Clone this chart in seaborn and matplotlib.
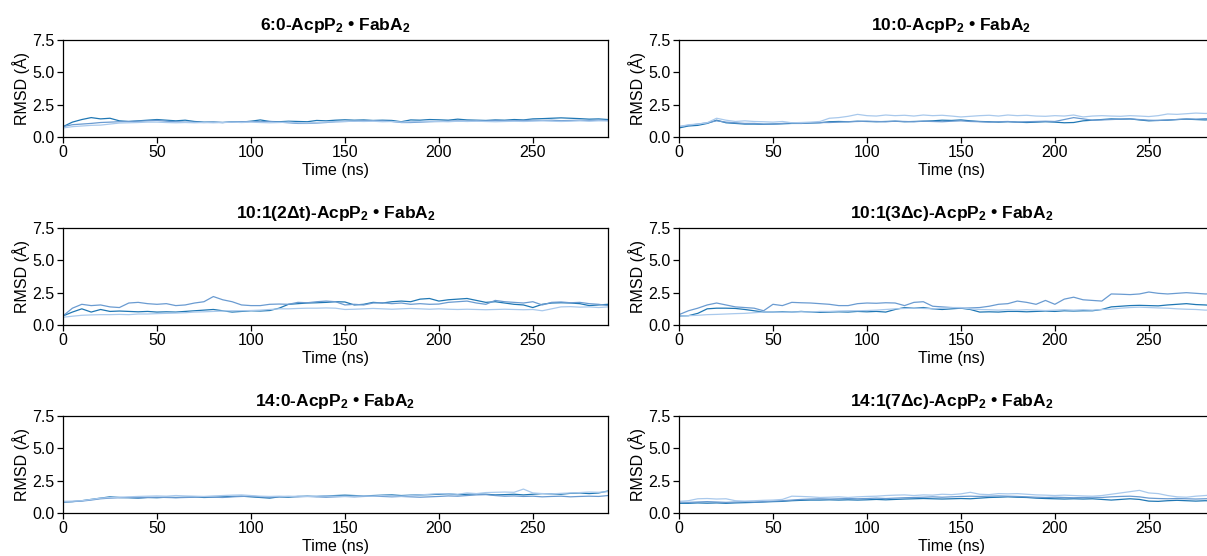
import numpy as np
import pandas as pd
import matplotlib
matplotlib.use("Agg")
import matplotlib.pyplot as plt
import seaborn as sns

# ---------------- data (RMSD in Å, sampled every 5 ns) ----------------
step_ns = 5
titles = [
    r"6:0-AcpP$_2\,$•$\,$FabA$_2$",
    r"10:0-AcpP$_2\,$•$\,$FabA$_2$",
    r"10:1(2Δt)-AcpP$_2\,$•$\,$FabA$_2$",
    r"10:1(3Δc)-AcpP$_2\,$•$\,$FabA$_2$",
    r"14:0-AcpP$_2\,$•$\,$FabA$_2$",
    r"14:1(7Δc)-AcpP$_2\,$•$\,$FabA$_2$",
]
replicates = ["rep1", "rep2", "rep3"]
colors = ["#1f77b4", "#6a9bd1", "#a9c9ec"]

p1_dark = [0.80, 1.15, 1.35, 1.50, 1.40, 1.45, 1.25, 1.20, 1.25, 1.30, 1.35, 1.30, 1.25, 1.30, 1.20, 1.15, 1.15, 1.12, 1.18, 1.15,
           1.22, 1.32, 1.20, 1.18, 1.22, 1.20, 1.18, 1.28, 1.25, 1.30, 1.33, 1.30, 1.32, 1.28, 1.30, 1.28, 1.18, 1.32, 1.30, 1.35,
           1.33, 1.30, 1.38, 1.32, 1.30, 1.28, 1.32, 1.30, 1.35, 1.32, 1.40, 1.42, 1.45, 1.48, 1.45, 1.42, 1.38, 1.40, 1.35]
p1_mid = [0.80, 0.95, 1.00, 1.05, 1.12, 1.15, 1.18, 1.20, 1.22, 1.25, 1.28, 1.22, 1.18, 1.15, 1.15, 1.12, 1.15, 1.12, 1.15, 1.18,
          1.20, 1.18, 1.20, 1.15, 1.10, 1.05, 1.05, 1.08, 1.12, 1.18, 1.20, 1.22, 1.25, 1.26, 1.25, 1.20, 1.12, 1.12, 1.15, 1.18,
          1.20, 1.22, 1.25, 1.22, 1.25, 1.24, 1.28, 1.25, 1.26, 1.28, 1.30, 1.28, 1.30, 1.26, 1.28, 1.30, 1.27, 1.30, 1.28]
p1_light = [0.70, 0.80, 0.85, 0.90, 0.92, 1.00, 1.08, 1.10, 1.12, 1.15, 1.15, 1.12, 1.10, 1.12, 1.10, 1.12, 1.10, 1.12, 1.15, 1.12,
            1.15, 1.12, 1.10, 1.12, 1.15, 1.10, 1.08, 1.12, 1.15, 1.18, 1.20, 1.22, 1.20, 1.22, 1.18, 1.20, 1.15, 1.18, 1.20, 1.22,
            1.20, 1.18, 1.22, 1.20, 1.22, 1.20, 1.18, 1.20, 1.22, 1.20, 1.22, 1.25, 1.22, 1.20, 1.22, 1.25, 1.22, 1.25, 1.24]

p2_dark = [0.70, 0.85, 0.90, 1.05, 1.30, 1.10, 1.05, 1.00, 1.00, 0.98, 1.00, 1.02, 1.05, 1.05, 1.08, 1.10, 1.18, 1.20, 1.18, 1.22,
           1.20, 1.18, 1.20, 1.22, 1.18, 1.20, 1.22, 1.25, 1.30, 1.28, 1.32, 1.25, 1.20, 1.18, 1.15, 1.18, 1.15, 1.12, 1.15, 1.18,
           1.15, 1.10, 1.12, 1.25, 1.30, 1.35, 1.40, 1.38, 1.40, 1.32, 1.25, 1.28, 1.30, 1.35, 1.38, 1.35, 1.32, 1.36, 1.34]
p2_mid = [0.80, 0.90, 1.00, 1.10, 1.25, 1.15, 1.10, 1.05, 1.05, 1.00, 1.00, 1.05, 1.10, 1.05, 1.10, 1.12, 1.12, 1.15, 1.18, 1.20,
          1.22, 1.20, 1.18, 1.22, 1.20, 1.18, 1.22, 1.20, 1.18, 1.22, 1.25, 1.20, 1.18, 1.15, 1.18, 1.20, 1.15, 1.18, 1.20, 1.22,
          1.20, 1.35, 1.50, 1.40, 1.30, 1.32, 1.35, 1.38, 1.40, 1.35, 1.30, 1.28, 1.32, 1.35, 1.40, 1.38, 1.42, 1.40, 1.38]
p2_light = [0.80, 0.95, 1.00, 1.10, 1.45, 1.30, 1.20, 1.25, 1.20, 1.18, 1.15, 1.20, 1.10, 1.12, 1.15, 1.20, 1.45, 1.50, 1.60, 1.75,
            1.65, 1.62, 1.70, 1.65, 1.68, 1.62, 1.70, 1.65, 1.68, 1.62, 1.55, 1.60, 1.65, 1.68, 1.62, 1.70, 1.65, 1.68, 1.62, 1.60,
            1.65, 1.62, 1.70, 1.55, 1.62, 1.65, 1.62, 1.60, 1.65, 1.62, 1.58, 1.65, 1.78, 1.75, 1.80, 1.85, 1.82, 1.85, 1.80]

p3_dark = [0.70, 1.00, 1.25, 1.00, 1.20, 1.05, 1.08, 1.05, 1.02, 1.05, 1.00, 1.02, 1.00, 1.05, 1.10, 1.15, 1.20, 1.10, 1.00, 1.05,
           1.10, 1.08, 1.12, 1.30, 1.60, 1.65, 1.70, 1.72, 1.75, 1.80, 1.78, 1.55, 1.60, 1.75, 1.70, 1.80, 1.85, 1.80, 2.00, 2.05,
           1.85, 1.95, 2.00, 2.05, 1.90, 1.75, 1.80, 1.70, 1.60, 1.55, 1.35, 1.60, 1.70, 1.72, 1.70, 1.65, 1.50, 1.55, 1.60]
p3_mid = [0.70, 1.30, 1.60, 1.50, 1.55, 1.40, 1.35, 1.70, 1.75, 1.65, 1.60, 1.65, 1.50, 1.55, 1.70, 1.80, 2.20, 1.95, 1.80, 1.55,
          1.50, 1.50, 1.60, 1.62, 1.60, 1.75, 1.72, 1.80, 1.85, 1.80, 1.55, 1.60, 1.55, 1.70, 1.72, 1.65, 1.70, 1.60, 1.65, 1.60,
          1.62, 1.75, 1.80, 1.85, 1.70, 1.60, 1.90, 1.80, 1.75, 1.70, 1.80, 1.55, 1.75, 1.78, 1.72, 1.75, 1.65, 1.60, 1.50]
p3_light = [0.60, 0.68, 0.75, 0.78, 0.80, 0.80, 0.82, 0.80, 0.85, 0.85, 0.88, 0.90, 0.92, 0.95, 1.00, 1.02, 1.05, 1.08, 1.10, 1.10,
            1.12, 1.15, 1.20, 1.25, 1.25, 1.28, 1.30, 1.30, 1.32, 1.30, 1.20, 1.22, 1.25, 1.28, 1.25, 1.22, 1.25, 1.28, 1.25, 1.22,
            1.25, 1.22, 1.20, 1.22, 1.20, 1.18, 1.20, 1.22, 1.20, 1.18, 1.20, 1.10, 1.25, 1.40, 1.42, 1.38, 1.40, 1.35, 1.40]

p4_dark = [0.70, 0.72, 0.90, 1.25, 1.30, 1.30, 1.28, 1.20, 1.10, 1.00, 1.00, 1.02, 1.00, 1.05, 1.00, 0.98, 1.00, 1.02, 1.00, 1.05,
           1.02, 1.05, 1.00, 1.20, 1.35, 1.30, 1.35, 1.25, 1.20, 1.25, 1.30, 1.20, 1.00, 1.02, 1.00, 1.05, 1.05, 1.02, 1.05, 1.08,
           1.05, 1.10, 1.08, 1.10, 1.10, 1.20, 1.40, 1.45, 1.50, 1.52, 1.50, 1.48, 1.55, 1.60, 1.65, 1.58, 1.55, 1.50, 1.48]
p4_mid = [0.80, 1.10, 1.30, 1.55, 1.70, 1.55, 1.40, 1.35, 1.30, 1.10, 1.60, 1.50, 1.75, 1.72, 1.70, 1.65, 1.60, 1.50, 1.50, 1.65,
          1.70, 1.68, 1.72, 1.70, 1.50, 1.75, 1.80, 1.45, 1.40, 1.35, 1.30, 1.32, 1.35, 1.45, 1.60, 1.65, 1.85, 1.75, 1.60, 1.90,
          1.60, 2.00, 2.15, 1.95, 1.90, 1.85, 2.40, 2.38, 2.35, 2.40, 2.55, 2.45, 2.40, 2.45, 2.50, 2.45, 2.40, 2.42, 2.45]
p4_light = [0.70, 0.72, 0.75, 0.80, 0.82, 0.85, 0.88, 0.90, 0.95, 1.00, 1.00, 0.98, 1.00, 1.02, 1.00, 1.05, 1.05, 1.08, 1.10, 1.10,
            1.12, 1.15, 1.20, 1.25, 1.28, 1.30, 1.28, 1.25, 1.30, 1.35, 1.35, 1.25, 1.20, 1.18, 1.15, 1.18, 1.15, 1.18, 1.15, 1.12,
            1.15, 1.18, 1.15, 1.18, 1.15, 1.20, 1.22, 1.30, 1.35, 1.38, 1.35, 1.32, 1.30, 1.25, 1.22, 1.20, 1.15, 1.15, 1.12]

p5_dark = [0.85, 0.88, 0.95, 1.05, 1.15, 1.25, 1.20, 1.18, 1.15, 1.20, 1.18, 1.22, 1.20, 1.22, 1.25, 1.20, 1.22, 1.25, 1.28, 1.30,
           1.25, 1.20, 1.15, 1.25, 1.22, 1.28, 1.30, 1.28, 1.32, 1.35, 1.38, 1.35, 1.32, 1.35, 1.38, 1.40, 1.35, 1.38, 1.40, 1.42,
           1.45, 1.48, 1.42, 1.45, 1.48, 1.45, 1.40, 1.42, 1.45, 1.40, 1.45, 1.50, 1.48, 1.45, 1.52, 1.55, 1.50, 1.55, 1.70]
p5_mid = [0.85, 0.88, 0.92, 1.00, 1.10, 1.15, 1.18, 1.20, 1.18, 1.20, 1.22, 1.20, 1.18, 1.20, 1.22, 1.25, 1.22, 1.20, 1.25, 1.28,
          1.30, 1.25, 1.22, 1.25, 1.28, 1.25, 1.28, 1.25, 1.22, 1.25, 1.28, 1.25, 1.28, 1.30, 1.28, 1.25, 1.28, 1.25, 1.22, 1.25,
          1.28, 1.32, 1.30, 1.35, 1.40, 1.42, 1.35, 1.30, 1.32, 1.28, 1.30, 1.25, 1.28, 1.30, 1.25, 1.28, 1.30, 1.28, 1.35]
p5_light = [0.90, 0.92, 0.95, 1.05, 1.15, 1.20, 1.22, 1.25, 1.28, 1.30, 1.32, 1.30, 1.35, 1.32, 1.30, 1.28, 1.32, 1.35, 1.38, 1.40,
            1.35, 1.30, 1.28, 1.30, 1.28, 1.30, 1.28, 1.30, 1.32, 1.30, 1.28, 1.30, 1.32, 1.30, 1.35, 1.32, 1.30, 1.35, 1.40, 1.45,
            1.50, 1.48, 1.45, 1.55, 1.50, 1.58, 1.60, 1.62, 1.60, 1.85, 1.55, 1.50, 1.48, 1.52, 1.55, 1.58, 1.62, 1.60, 1.65]

p6_dark = [0.75, 0.75, 0.78, 0.76, 0.78, 0.75, 0.78, 0.80, 0.82, 0.85, 0.88, 0.90, 0.95, 0.98, 1.00, 1.00, 1.02, 1.00, 1.02, 1.00,
           1.02, 1.05, 1.02, 1.05, 1.08, 1.10, 1.12, 1.10, 1.08, 1.10, 1.12, 1.10, 1.15, 1.20, 1.22, 1.25, 1.22, 1.20, 1.15, 1.12,
           1.10, 1.08, 1.10, 1.08, 1.10, 1.05, 1.00, 1.05, 1.10, 1.05, 0.92, 0.90, 0.95, 0.98, 0.95, 0.92, 0.95, 0.93, 0.95]
p6_mid = [0.85, 0.82, 0.85, 0.88, 0.85, 0.82, 0.85, 0.88, 0.85, 0.88, 0.92, 0.95, 1.00, 1.05, 1.08, 1.10, 1.08, 1.10, 1.12, 1.10,
          1.12, 1.15, 1.12, 1.15, 1.18, 1.20, 1.22, 1.25, 1.22, 1.25, 1.28, 1.30, 1.28, 1.30, 1.32, 1.30, 1.28, 1.25, 1.22, 1.20,
          1.22, 1.20, 1.18, 1.20, 1.22, 1.20, 1.25, 1.28, 1.30, 1.25, 1.15, 1.12, 1.10, 1.12, 1.10, 1.08, 1.10, 1.12, 1.10]
p6_light = [0.90, 0.95, 1.10, 1.12, 1.08, 1.10, 0.95, 0.92, 0.95, 0.98, 1.00, 1.05, 1.30, 1.28, 1.25, 1.20, 1.22, 1.25, 1.20, 1.25,
            1.28, 1.30, 1.35, 1.38, 1.40, 1.35, 1.40, 1.38, 1.45, 1.42, 1.48, 1.60, 1.45, 1.42, 1.50, 1.48, 1.50, 1.45, 1.40, 1.38,
            1.35, 1.38, 1.35, 1.32, 1.30, 1.35, 1.45, 1.55, 1.65, 1.75, 1.55, 1.50, 1.35, 1.25, 1.22, 1.30, 1.35, 1.40, 1.42]

panels = [
    (p1_dark, p1_mid, p1_light),
    (p2_dark, p2_mid, p2_light),
    (p3_dark, p3_mid, p3_light),
    (p4_dark, p4_mid, p4_light),
    (p5_dark, p5_mid, p5_light),
    (p6_dark, p6_mid, p6_light),
]

# ---------------- styling ----------------
sns.set_theme(style="ticks")
plt.rcParams["font.family"] = ["Liberation Sans", "DejaVu Sans"]
plt.rcParams["mathtext.default"] = "regular"
plt.rcParams["text.color"] = "black"
plt.rcParams["axes.labelcolor"] = "black"
plt.rcParams["axes.edgecolor"] = "black"
plt.rcParams["xtick.color"] = "black"
plt.rcParams["ytick.color"] = "black"
plt.rcParams["axes.linewidth"] = 0.9
plt.rcParams["xtick.major.size"] = 4
plt.rcParams["ytick.major.size"] = 4
plt.rcParams["xtick.major.width"] = 0.9
plt.rcParams["ytick.major.width"] = 0.9

W, H = 1207, 556
fig = plt.figure(figsize=(W / 100, H / 100), dpi=100)

ax_w = 545 / W
ax_h = 97 / H
lefts = [63 / W, 679 / W]
bottoms = [1 - 137 / H, 1 - 325 / H, 1 - 513 / H]

for idx, (title, series) in enumerate(zip(titles, panels)):
    r, c = divmod(idx, 2)
    ax = fig.add_axes([lefts[c], bottoms[r], ax_w, ax_h])
    frames = []
    for rep, vals in zip(replicates, series):
        frames.append(pd.DataFrame({
            "time": np.arange(len(vals)) * step_ns,
            "rmsd": vals,
            "rep": rep,
        }))
    df = pd.concat(frames, ignore_index=True)
    sns.lineplot(data=df, x="time", y="rmsd", hue="rep", hue_order=replicates,
                 palette=colors, linewidth=0.9, legend=False, ax=ax)
    ax.set_xlim(0, 290)
    ax.set_ylim(0, 7.5)
    ax.set_xticks([0, 50, 100, 150, 200, 250])
    ax.set_yticks([0.0, 2.5, 5.0, 7.5])
    ax.set_yticklabels(["0.0", "2.5", "5.0", "7.5"])
    ax.tick_params(labelsize=11.5, colors="black", pad=2)
    ax.set_xlabel("Time (ns)", fontsize=11.5, labelpad=2, color="black")
    ax.set_ylabel("RMSD (Å)", fontsize=11.5, labelpad=2, color="black")
    ax.set_title(title, fontsize=12.5, fontweight="bold", pad=7, color="black")
    for s in ax.spines.values():
        s.set_color("black")

fig.savefig("out.png", dpi=100)
